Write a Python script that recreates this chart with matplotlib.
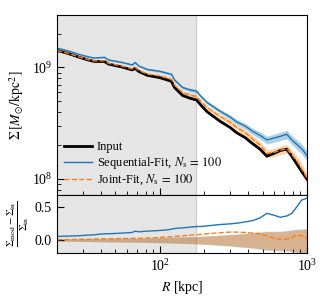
import numpy as np
import matplotlib
matplotlib.use("Agg")
import matplotlib.pyplot as plt

plt.rcParams['font.family'] = ['Liberation Serif', 'DejaVu Serif']
plt.rcParams['mathtext.fontset'] = 'stix'
plt.rcParams['font.size'] = 10

# radius grid [kpc]
R = np.array([20, 24, 28, 33, 36, 42, 45, 55, 65, 68, 72, 82, 100, 113, 120, 126, 143, 160, 178,
              190, 210, 256, 300, 333, 380, 428, 480, 534, 600, 660, 730, 790, 855, 920, 1000])

# input surface density [Msun/kpc^2]
sigma_in = np.array([1.42e9, 1.33e9, 1.24e9, 1.16e9, 1.13e9, 1.13e9, 1.07e9, 1.01e9, 9.5e8, 9.8e8,
                     9.2e8, 8.5e8, 8.1e8, 7.7e8, 7.5e8, 6.6e8, 5.6e8, 5.3e8, 5.1e8,
                     4.6e8, 4.0e8, 3.3e8, 2.9e8, 2.6e8, 2.35e8, 2.07e8, 1.85e8, 1.6e8, 1.7e8,
                     1.8e8, 1.85e8, 1.6e8, 1.36e8, 1.17e8, 1.0e8])

# relative residuals
res_seq = np.array([0.05, 0.055, 0.06, 0.07, 0.075, 0.09, 0.09, 0.10, 0.11, 0.13, 0.12, 0.13, 0.14,
                    0.15, 0.16, 0.17, 0.18, 0.19, 0.20, 0.20, 0.21, 0.23, 0.24, 0.25, 0.27, 0.29,
                    0.33, 0.40, 0.37, 0.34, 0.36, 0.40, 0.50, 0.60, 0.63])
res_joint = np.array([0.0, 0.003, 0.005, 0.008, 0.01, 0.015, 0.015, 0.018, 0.02, 0.025, 0.022, 0.025,
                      0.035, 0.04, 0.045, 0.05, 0.06, 0.07, 0.075, 0.08, 0.09, 0.105, 0.115, 0.115,
                      0.11, 0.10, 0.09, 0.06, 0.02, 0.005, 0.01, 0.03, 0.07, 0.06, 0.02])

# uncertainty band (relative)
band_hi = np.array([0.01, 0.012, 0.014, 0.016, 0.017, 0.018, 0.019, 0.02, 0.022, 0.023, 0.024, 0.026,
                    0.03, 0.033, 0.035, 0.037, 0.04, 0.043, 0.046, 0.05, 0.055, 0.065, 0.075, 0.08,
                    0.09, 0.10, 0.11, 0.12, 0.12, 0.12, 0.13, 0.14, 0.15, 0.15, 0.16])
band_lo = np.array([-0.02, -0.022, -0.024, -0.026, -0.028, -0.03, -0.031, -0.033, -0.035, -0.036,
                    -0.037, -0.04, -0.043, -0.046, -0.048, -0.05, -0.053, -0.057, -0.06, -0.063,
                    -0.067, -0.08, -0.09, -0.1, -0.11, -0.12, -0.135, -0.15, -0.155, -0.16, -0.16,
                    -0.17, -0.18, -0.19, -0.2])

r_shade = 175
blue = '#1f77b4'
orange = '#ff7f0e'

sigma_seq = sigma_in * (1 + res_seq)
sigma_joint = sigma_in * (1 + res_joint)
w = 0.6 * (band_hi - band_lo) / 2

fig = plt.figure(figsize=(3.2, 3.0), dpi=100)
gs = fig.add_gridspec(2, 1, height_ratios=[3.1, 1], hspace=0,
                      left=0.178, right=0.959, top=0.95, bottom=0.157)
ax = fig.add_subplot(gs[0])
axr = fig.add_subplot(gs[1], sharex=ax)

for a in (ax, axr):
    a.axvspan(10, r_shade, color='#e5e5e5', zorder=0, lw=0)
    a.axvline(r_shade, color='#cfcfcf', lw=1, zorder=0)

ax.fill_between(R, sigma_seq * (1 - w), sigma_seq * (1 + w), color=blue, alpha=0.35, lw=0)
ax.fill_between(R, sigma_joint * (1 - w), sigma_joint * (1 + w), color=orange, alpha=0.35, lw=0)
ax.plot(R, sigma_in, color='black', lw=2, label='Input')
ax.plot(R, sigma_seq, color=blue, lw=1, label=r'Sequential-Fit, $N_\mathrm{s}\,=\,100$')
ax.plot(R, sigma_joint, color=orange, lw=1, ls='--', label=r'Joint-Fit, $N_\mathrm{s}\,=\,100$')

ax.set_xscale('log')
ax.set_yscale('log')
ax.set_xlim(20, 1000)
ax.set_ylim(7.2e7, 2.95e9)
ax.set_ylabel(r'$\Sigma\,[M_{\odot}/\mathrm{kpc}^2]$', fontsize=10)
ax.yaxis.set_label_coords(-0.125, 0.5)
ax.legend(loc='lower left', frameon=False, fontsize=9, handlelength=2.2,
          borderaxespad=0.2, labelspacing=0.15, handletextpad=0.4)
ax.tick_params(which='both', direction='in', labelbottom=False, labelsize=10)
ax.tick_params(which='major', length=5)
ax.tick_params(which='minor', length=3)

axr.fill_between(R, band_lo * 1.08, band_hi * 1.08, color=blue, alpha=0.3, lw=0)
axr.fill_between(R, band_lo, band_hi, color=orange, alpha=0.4, lw=0)
axr.plot(R, res_seq, color=blue, lw=1)
axr.plot(R, res_joint, color=orange, lw=1, ls='--')
axr.set_ylim(-0.2, 0.68)
axr.set_yticks([0.0, 0.5])
axr.set_xlabel(r'$R$ [kpc]', fontsize=10)
axr.set_ylabel(r'$\frac{\Sigma_\mathrm{mod}-\Sigma_\mathrm{in}}{\Sigma_\mathrm{in}}$', fontsize=11)
axr.yaxis.set_label_coords(-0.105, 0.5)
axr.tick_params(which='both', direction='in', labelsize=10)
axr.tick_params(which='major', length=5)
axr.tick_params(which='minor', length=3)

fig.savefig('out.png', dpi=100)
